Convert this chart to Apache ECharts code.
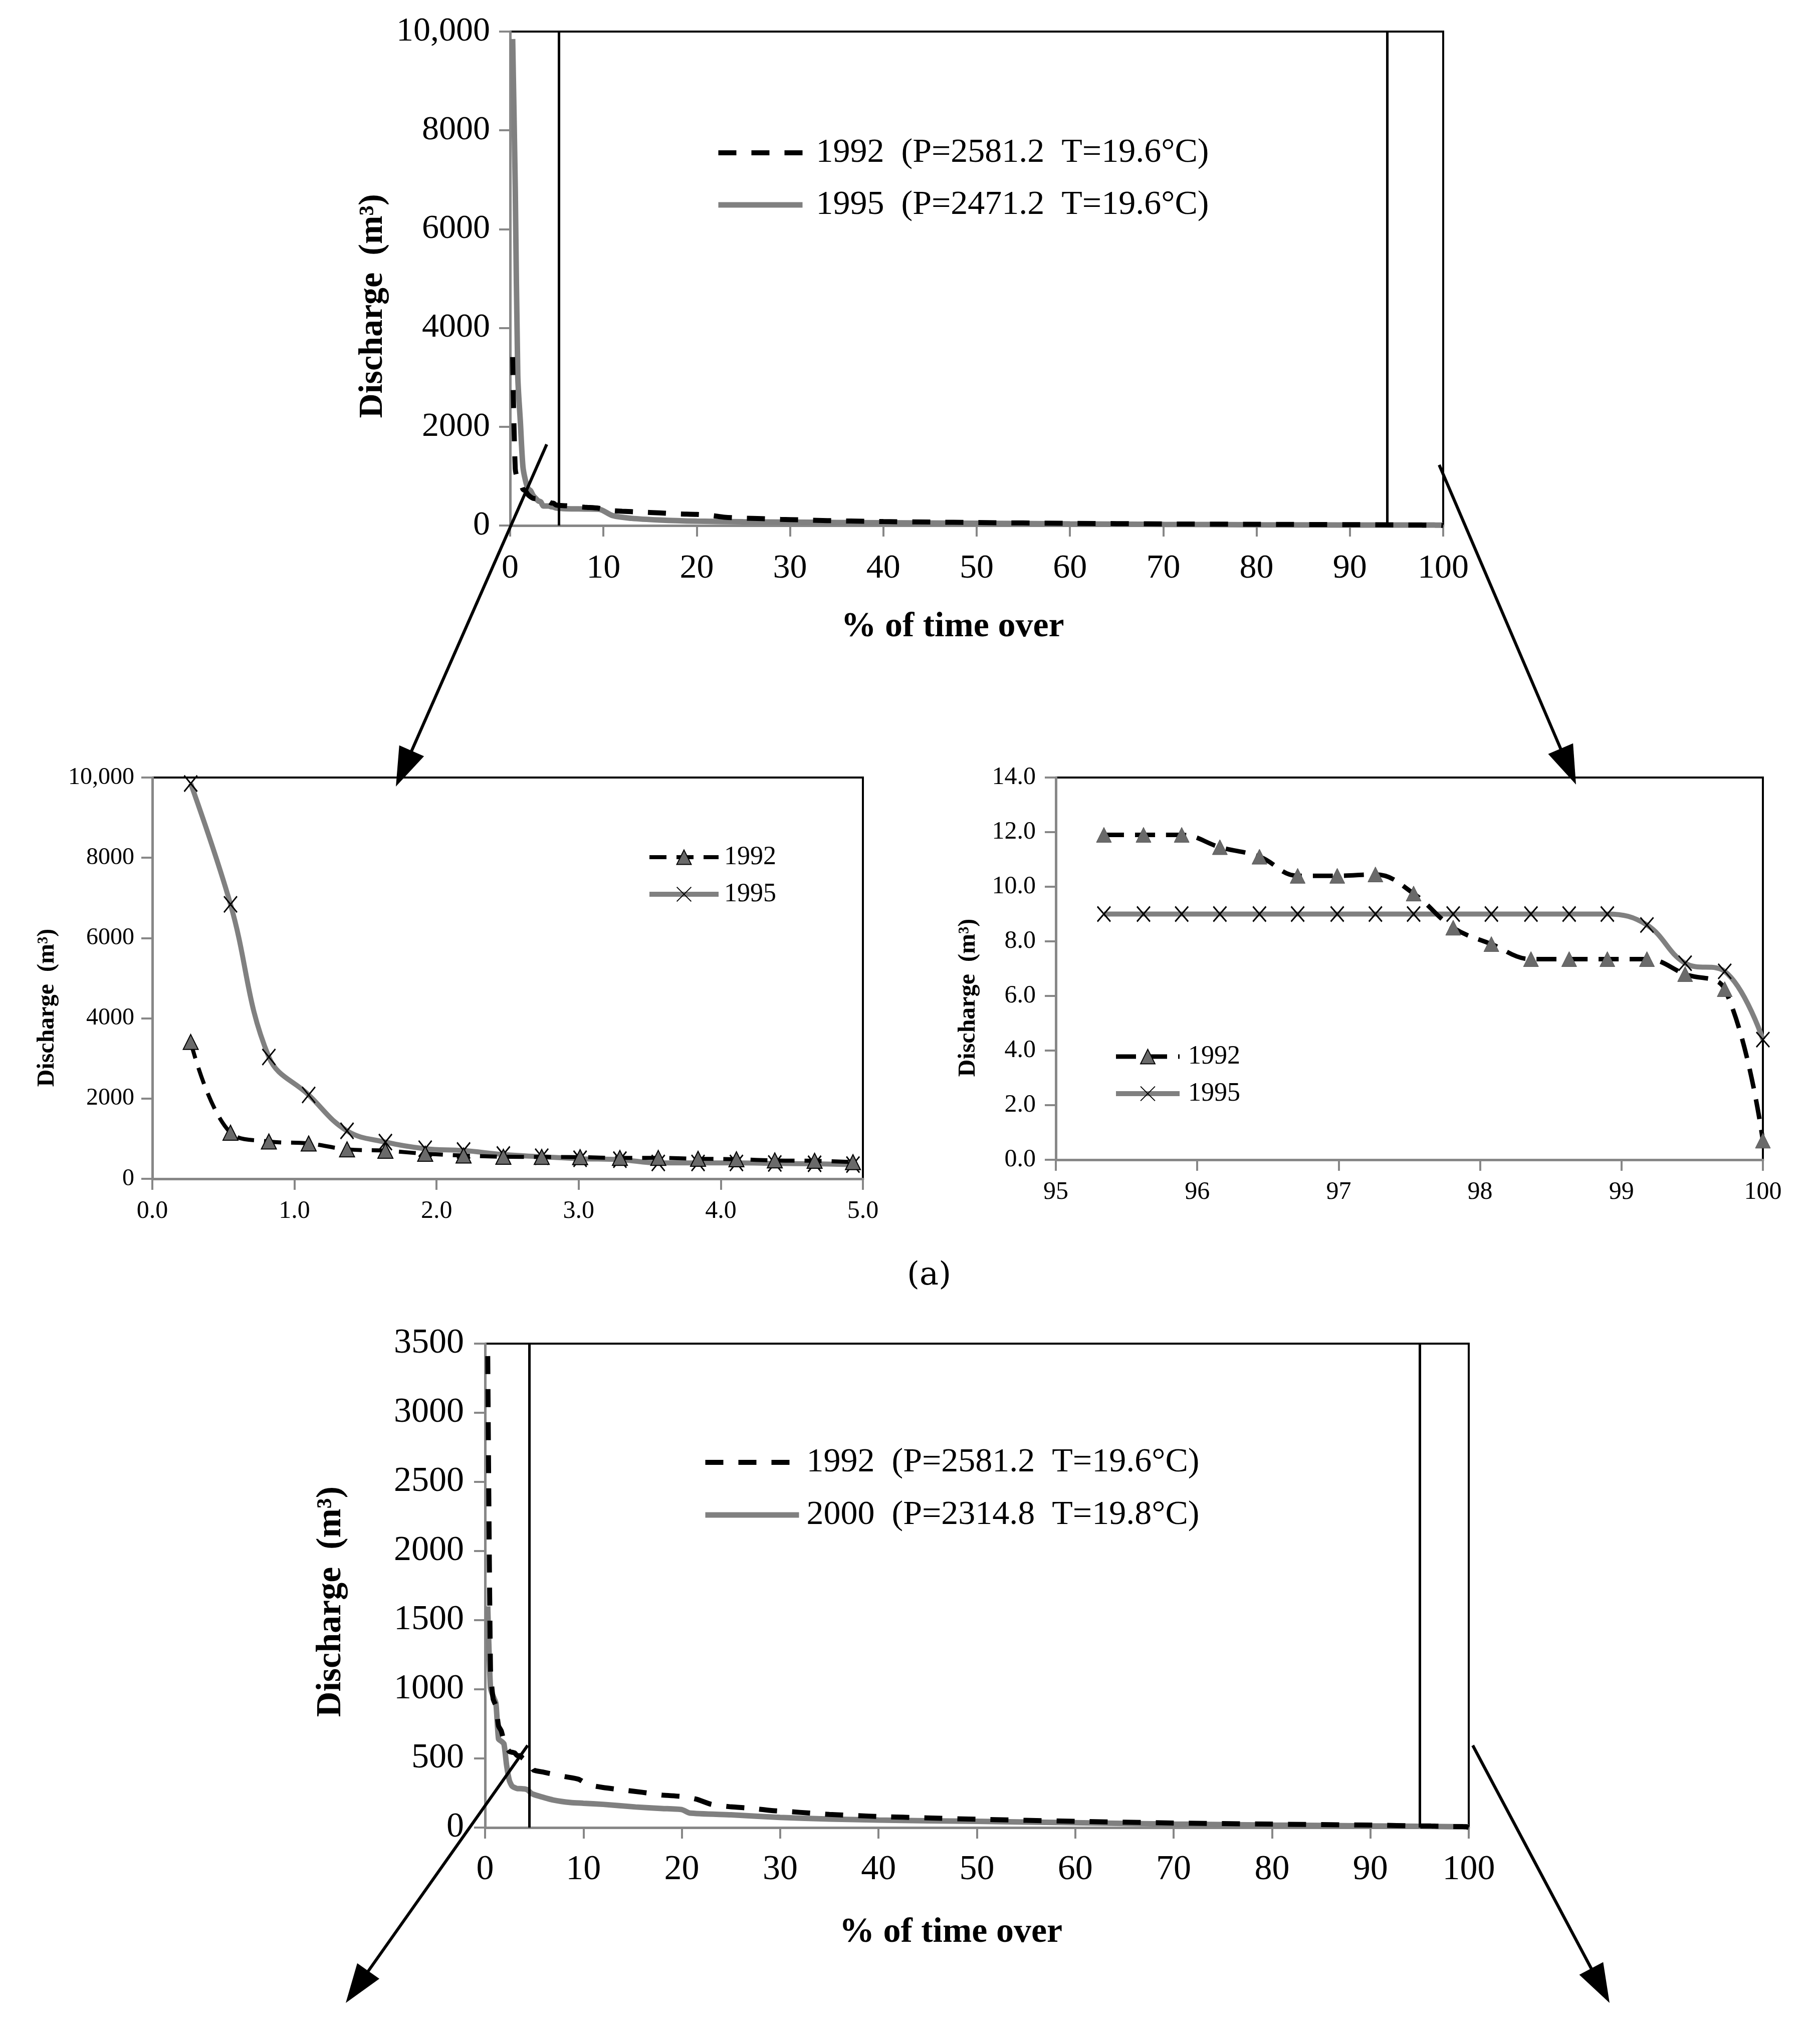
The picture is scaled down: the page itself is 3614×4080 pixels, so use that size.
<!DOCTYPE html>
<html>
<head>
<meta charset="utf-8">
<script src="https://cdn.jsdelivr.net/npm/echarts@6/dist/echarts.min.js"></script>
<style>html,body{margin:0;padding:0;background:#fff}#c{width:3614px;height:4080px}</style>
</head>
<body>
<div id="c"></div>
<script>
// ---------------- DATA ----------------
// % of time over (daily exceedance) for the highest flows (first 18 days)
const xHigh = [0.27, 0.55, 0.82, 1.10, 1.37, 1.64, 1.92, 2.19, 2.47, 2.74, 3.01, 3.29, 3.56, 3.84, 4.11, 4.38, 4.66, 4.93];
// % of time over for the lowest flows (last 18 days)
const xLow = [95.34, 95.62, 95.89, 96.16, 96.44, 96.71, 96.99, 97.26, 97.53, 97.81, 98.08, 98.36, 98.63, 98.90, 99.18, 99.45, 99.73, 100.0];

// 1992 discharge (m3)
const q1992High = [3410, 1150, 930, 880, 735, 700, 625, 580, 550, 545, 540, 520, 520, 500, 487, 458, 449, 416];
const x1992Mid = [6, 8, 9.5, 10.5, 12, 14, 16, 18, 20, 21.5, 23, 25, 27, 29, 31, 33, 35, 38, 40, 45, 50, 60, 70, 80, 90];
const q1992Mid = [400, 370, 350, 310, 290, 272, 255, 235, 225, 205, 168, 150, 140, 124, 115, 105, 95, 86, 80, 70, 60, 45, 33, 25, 18];
const q1992Low = [11.9, 11.9, 11.9, 11.45, 11.1, 10.4, 10.4, 10.45, 9.75, 8.5, 7.9, 7.35, 7.35, 7.35, 7.35, 6.8, 6.25, 0.7];

// 1995 discharge (m3)
const q1995High = [9850, 6840, 3035, 2090, 1195, 915, 750, 705, 605, 550, 500, 478, 395, 395, 395, 383, 374, 354];
const x1995Mid = [6, 8, 9.5, 11, 13, 16, 20, 25, 30, 35, 40, 50, 60, 70, 80, 90];
const q1995Mid = [340, 335, 330, 200, 146, 112, 88, 75, 68, 62, 56, 45, 34, 24, 16, 11];
const q1995Low = [9.0, 9.0, 9.0, 9.0, 9.0, 9.0, 9.0, 9.0, 9.0, 9.0, 9.0, 9.0, 9.0, 9.0, 8.6, 7.2, 6.9, 4.4];

// 2000 discharge (m3)
const q2000High = [1600, 1010, 950, 900, 640, 625, 605, 450, 340, 300, 289, 282, 282, 280, 278, 270, 250, 240];
const x2000Mid = [5.6, 6.9, 8.7, 10, 12, 15.3, 18, 20, 20.8, 25, 30, 35, 40, 50, 60, 70, 80, 90, 95, 100];
const q2000Mid = [225, 200, 181, 176, 168, 149, 138, 130, 105, 92, 73, 62, 54, 45, 35, 25, 18, 12, 9, 5];

// zoom window markers (% of time over)
const zoomMarksTop = [5.2, 94];
const zoomMarksBottom = [4.5, 95];

// legend labels
const legendTop = ['1992  (P=2581.2  T=19.6°C)', '1995  (P=2471.2  T=19.6°C)'];
const legendBottom = ['1992  (P=2581.2  T=19.6°C)', '2000  (P=2314.8  T=19.8°C)'];
const legendSmall = ['1992', '1995'];

// axis texts
const yTitle = 'Discharge  (m³)';
const xTitle = '% of time over';
const panelLabel = '(a)';

// ---------------- CHART ----------------
const FONT = 'Liberation Serif';
const GRAY = '#808080';
const AXIS = '#878787';
function pairs(xs, ys) { return xs.map((x, i) => [x, ys[i]]); }

const s1992 = pairs(xHigh, q1992High).concat(pairs(x1992Mid, q1992Mid), pairs(xLow, q1992Low));
const s1995 = pairs(xHigh, q1995High).concat(pairs(x1995Mid, q1995Mid), pairs(xLow, q1995Low));
const s2000 = pairs(xHigh, q2000High).concat(pairs(x2000Mid, q2000Mid));

const grids = [
  {left: 1018, top: 63, width: 1862, height: 986},   // top
  {left: 304, top: 1552, width: 1418, height: 801},  // zoom high
  {left: 2107, top: 1552, width: 1411, height: 763}, // zoom low
  {left: 968, top: 2682, width: 1963, height: 966}   // bottom
].map(g => Object.assign(g, {show: true, borderColor: '#000', borderWidth: 4, backgroundColor: 'transparent', containLabel: false}));

function xAxis(gi, min, max, interval, fs, margin, fmt, name, gap, pad) {
  return {
    type: 'value', gridIndex: gi, min: min, max: max, interval: interval,
    axisLine: {show: true, onZero: false, lineStyle: {color: AXIS, width: 5}},
    axisTick: {show: true, inside: false, length: 22, lineStyle: {color: AXIS, width: 4}},
    splitLine: {show: false},
    axisLabel: {fontFamily: FONT, fontSize: fs, color: '#000', margin: margin, formatter: fmt},
    name: name || '', nameLocation: 'middle', nameGap: gap || 0,
    nameTextStyle: {fontFamily: FONT, fontSize: 70, fontWeight: 'bold', color: '#000', padding: pad || 0}
  };
}
function yAxis(gi, min, max, interval, fs, margin, fmt, nfs, gap, pad) {
  return {
    type: 'value', gridIndex: gi, min: min, max: max, interval: interval,
    axisLine: {show: true, onZero: false, lineStyle: {color: AXIS, width: 5}},
    axisTick: {show: true, inside: false, length: 22, lineStyle: {color: AXIS, width: 4}},
    splitLine: {show: false},
    axisLabel: {fontFamily: FONT, fontSize: fs, color: '#000', margin: margin, formatter: fmt},
    name: yTitle, nameLocation: 'middle', nameRotate: 90, nameGap: gap,
    nameTextStyle: {fontFamily: FONT, fontSize: nfs, fontWeight: 'bold', color: '#000', padding: pad}
  };
}
const fmtBig = v => v === 10000 ? '10,000' : String(v);
const fmt1 = v => v.toFixed(1);
const fmt0 = v => String(v);

const xSym = 'path://M0,0 L10,10 M10,0 L0,10';

const markV = (vals) => ({
  silent: true, symbol: ['none', 'none'], label: {show: false},
  lineStyle: {color: '#000', width: 5, type: 'solid'},
  emphasis: {disabled: true},
  data: vals.map(v => ({xAxis: v}))
});

const dashBig = [36, 30];
const series = [
  // top chart
  {name: legendTop[0], type: 'line', xAxisIndex: 0, yAxisIndex: 0, data: s1992, symbol: 'none', smooth: 0.3,
   lineStyle: {color: '#000', width: 10, type: dashBig}, itemStyle: {color: '#000'}, z: 4,
   markLine: markV(zoomMarksTop)},
  {name: legendTop[1], type: 'line', xAxisIndex: 0, yAxisIndex: 0, data: s1995, symbol: 'none', smooth: 0.3,
   lineStyle: {color: GRAY, width: 11}, itemStyle: {color: GRAY}, z: 3},
  // zoom high
  {name: legendSmall[0], type: 'line', xAxisIndex: 1, yAxisIndex: 1, data: pairs(xHigh, q1992High), smooth: 0.4,
   symbol: 'triangle', symbolSize: [30, 30],
   lineStyle: {color: '#000', width: 8, type: [34, 20]}, itemStyle: {color: '#6a6a6a', borderColor: '#000', borderWidth: 2}, z: 4},
  {name: legendSmall[1], type: 'line', xAxisIndex: 1, yAxisIndex: 1, data: pairs(xHigh, q1995High), smooth: 0.4,
   symbol: xSym, symbolSize: [26, 32],
   lineStyle: {color: GRAY, width: 10}, itemStyle: {color: '#000', borderColor: '#000', borderWidth: 3}, z: 3},
  // zoom low
  {name: legendSmall[0], type: 'line', xAxisIndex: 2, yAxisIndex: 2, data: pairs(xLow, q1992Low), smooth: 0.4,
   symbol: 'triangle', symbolSize: [30, 30],
   lineStyle: {color: '#000', width: 9, type: [40, 22]}, itemStyle: {color: '#6a6a6a', borderColor: '#555', borderWidth: 1}, z: 4},
  {name: legendSmall[1], type: 'line', xAxisIndex: 2, yAxisIndex: 2, data: pairs(xLow, q1995Low), smooth: 0.4,
   symbol: xSym, symbolSize: [26, 30],
   lineStyle: {color: GRAY, width: 10}, itemStyle: {color: '#000', borderColor: '#000', borderWidth: 3}, z: 3},
  // bottom chart
  {name: legendBottom[0], type: 'line', xAxisIndex: 3, yAxisIndex: 3, data: s1992, symbol: 'none', smooth: 0.2,
   lineStyle: {color: '#000', width: 10, type: dashBig}, itemStyle: {color: '#000'}, z: 4,
   markLine: markV(zoomMarksBottom)},
  {name: legendBottom[1], type: 'line', xAxisIndex: 3, yAxisIndex: 3, data: s2000, symbol: 'none', smooth: 0.2,
   lineStyle: {color: GRAY, width: 11}, itemStyle: {color: GRAY}, z: 3}
];

// legend items with their own icon styles
const itemDashed = (name, w, dash) => ({name: name, lineStyle: {color: '#000', width: w, type: dash}, itemStyle: {opacity: 0}});
const itemGray = (name, w) => ({name: name, lineStyle: {color: GRAY, width: w, type: 'solid'}, itemStyle: {opacity: 0}});
const itemDashedSym = (name, w, dash) => ({name: name, lineStyle: {color: '#000', width: w, type: dash}});
const itemGraySym = (name, w) => ({name: name, lineStyle: {color: GRAY, width: w, type: 'solid'}});

function legend(left, top, items, fs, iw, ih, gap, tpad) {
  return {
    left: left, top: top, orient: 'vertical', data: items, itemWidth: iw, itemHeight: ih, itemGap: gap,
    selectedMode: false, inactiveColor: '#000',
    textStyle: {fontFamily: FONT, fontSize: fs, color: '#000', lineHeight: fs, padding: [0, 0, 0, tpad]}
  };
}

function arrow(x1, y1, x2, y2) {
  const dx = x2 - x1, dy = y2 - y1, L = Math.hypot(dx, dy);
  const ux = dx / L, uy = dy / L, nx = -uy, ny = ux;
  const hl = 78, hw = 27;
  const bx = x2 - ux * hl, by = y2 - uy * hl;
  return [
    {type: 'line', shape: {x1: x1, y1: y1, x2: bx + ux * 5, y2: by + uy * 5}, style: {stroke: '#000', lineWidth: 6}, z: 10},
    {type: 'polygon', shape: {points: [[x2, y2], [bx + nx * hw, by + ny * hw], [bx - nx * hw, by - ny * hw]]}, style: {fill: '#000'}, z: 10}
  ];
}

const option = {
  backgroundColor: '#fff',
  animation: false,
  grid: grids,
  xAxis: [
    xAxis(0, 0, 100, 10, 68, 52, fmt0, xTitle, 168, [0, 96, 0, 0]),
    xAxis(1, 0, 5, 1, 50, 40, fmt1),
    xAxis(2, 95, 100, 1, 50, 40, fmt0),
    xAxis(3, 0, 100, 10, 70, 50, fmt0, xTitle, 175, [0, 104, 0, 0])
  ],
  yAxis: [
    yAxis(0, 0, 10000, 2000, 68, 40, fmtBig, 68, 240, [0, 110, 0, 0]),
    yAxis(1, 0, 10000, 2000, 48, 36, fmtBig, 48, 185, [0, 118, 0, 0]),
    yAxis(2, 0, 14, 2, 50, 40, fmt1, 48, 150, [0, 116, 0, 0]),
    yAxis(3, 0, 3500, 500, 70, 42, fmt0, 70, 272, [0, 64, 0, 0])
  ],
  legend: [
    legend(1423, 266, [itemDashed(legendTop[0], 10, dashBig), itemGray(legendTop[1], 11)], 68, 168, 30, 36, 22),
    legend(1286, 1680, [itemDashedSym(legendSmall[0], 8, [34, 20]), itemGraySym(legendSmall[1], 10)], 52, 138, 36, 22, 6),
    legend(2217, 2078, [itemDashedSym(legendSmall[0], 9, [40, 22]), itemGraySym(legendSmall[1], 10)], 52, 127, 36, 22, 12),
    legend(1397, 2880, [itemDashed(legendBottom[0], 10, dashBig), itemGray(legendBottom[1], 11)], 68, 187, 30, 37, 10)
  ],
  series: series,
  graphic: [].concat(
    arrow(1091, 887, 790, 1570),
    arrow(2872, 928, 3145, 1566),
    arrow(1053, 3484, 690, 3998),
    arrow(2939, 3484, 3212, 3998),
    [{type: 'text', left: 1810, top: 2515, style: {text: panelLabel, font: '64px "DejaVu Serif", serif', fill: '#000'}}]
  )
};

const chart = echarts.init(document.getElementById('c'), null, {renderer: 'canvas', width: 3614, height: 4080});
chart.setOption(option);
</script>
</body>
</html>
